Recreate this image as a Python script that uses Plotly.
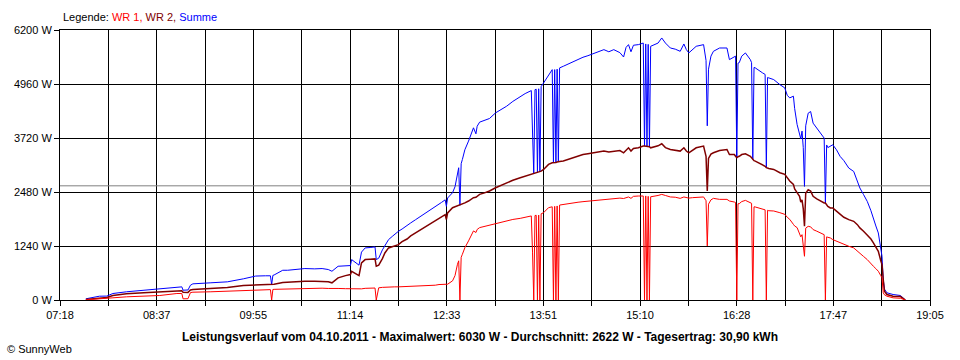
import plotly.graph_objects as go

# ---- data (time in minutes since midnight, power in W) ----
time_min = [459, 470, 476, 481, 492, 506, 519, 533, 537, 538,
            542, 544, 546, 560, 574, 587, 597, 605, 609, 610,
            611, 612, 619, 623, 630, 637, 645, 651, 656, 659,
            664, 670, 674, 675, 681, 683, 686, 690, 694, 695,
            697, 700, 702, 705, 708, 710, 713, 716, 720, 723,
            727, 730, 733, 736, 740, 743, 746, 748, 751, 752,
            753, 757, 759, 761, 762, 763, 764, 765, 767, 770,
            774, 776, 777, 779, 783, 787, 792, 796, 801, 806,
            812, 816, 821, 822, 823, 824, 825, 826, 827, 828,
            829, 831, 835, 838, 839, 840, 841, 842, 843, 844,
            847, 851, 855, 859, 863, 867, 871, 876, 880, 884,
            888, 893, 896, 898, 900, 902, 904, 908, 911, 912,
            913, 914, 915, 916, 917, 918, 924, 927, 930, 934,
            938, 942, 945, 947, 949, 952, 955, 961, 963, 964,
            965, 967, 969, 974, 980, 982, 986, 987, 988, 989,
            990, 992, 995, 999, 1000, 1001, 1002, 1003, 1009, 1011,
            1012, 1013, 1014, 1018, 1023, 1027, 1029, 1031, 1034, 1035,
            1037, 1039, 1040, 1041, 1042, 1043, 1044, 1046, 1048, 1050,
            1053, 1056, 1059, 1060, 1061, 1062, 1064, 1066, 1069, 1072,
            1075, 1079, 1083, 1086, 1088, 1091, 1094, 1097, 1099, 1101,
            1103, 1105, 1106, 1107, 1108, 1110, 1115, 1121, 1125]

summe = [27, 87, 90, 149, 188, 225, 256, 302, 302, 225,
         230, 340, 371, 394, 417, 486, 550, 556, 556, 355,
         565, 575, 683, 683, 700, 722, 715, 722, 700, 660,
         775, 790, 791, 928, 800, 1100, 1196, 1205, 1219, 928,
         960, 1150, 1260, 1387, 1460, 1510, 1577, 1630, 1700, 1770,
         1845, 1900, 1950, 2000, 2074, 2130, 2200, 2240, 2300, 2150,
         2342, 2464, 2600, 2883, 3037, 2175, 3130, 3227, 3450, 3649,
         3954, 3816, 3990, 4084, 4130, 4167, 4298, 4360, 4451, 4560,
         4680, 4740, 4809, 3900, 2900, 4830, 4840, 2920, 4850, 2940,
         4900, 4985, 5176, 5290, 3150, 5290, 3160, 5300, 3170, 5330,
         5367, 5420, 5482, 5530, 5574, 5610, 5650, 5700, 5749, 5700,
         5749, 5680, 5580, 5800, 5864, 5700, 5850, 5864, 5902, 5900,
         3534, 5880, 3530, 5870, 3520, 5826, 5900, 6017, 5900, 5787,
         5760, 5711, 5879, 5750, 5673, 5750, 5826, 5864, 5500, 4000,
         5300, 5600, 5711, 5787, 5787, 5520, 5600, 5600, 3266, 5440,
         5450, 5600, 5673, 5520, 5450, 3230, 5340, 5330, 5214, 5180,
         3040, 5110, 5100, 5061, 4946, 4870, 4700, 4641, 4680, 4400,
         4030, 3832, 3700, 3878, 3500, 2609, 4000, 4290, 4328, 4061,
         3950, 3832, 3718, 2227, 3560, 3500, 3526, 3564, 3450, 3296,
         3200, 3030, 2952, 2750, 2572, 2420, 2265, 2050, 1845, 1700,
         1540, 1200, 1004, 470, 250, 165, 126, 103, 0]

wr2 = [10, 50, 60, 103, 142, 165, 179, 211, 211, 180,
       175, 230, 241, 264, 287, 332, 345, 350, 352, 355,
       357, 360, 400, 408, 420, 431, 428, 431, 420, 394,
       509, 560, 584, 660, 560, 850, 928, 935, 944, 775,
       800, 950, 1080, 1196, 1230, 1250, 1272, 1340, 1400, 1470,
       1540, 1600, 1650, 1700, 1769, 1820, 1870, 1910, 1960, 1850,
       1999, 2120, 2140, 2160, 2170, 2175, 2185, 2196, 2230, 2273,
       2349, 2360, 2380, 2425, 2460, 2503, 2578, 2630, 2693, 2750,
       2808, 2840, 2884, 2900, 2900, 2910, 2915, 2920, 2930, 2940,
       2960, 2998, 3113, 3150, 3150, 3160, 3160, 3170, 3170, 3180,
       3190, 3230, 3266, 3300, 3342, 3360, 3381, 3400, 3419, 3400,
       3419, 3430, 3380, 3450, 3495, 3420, 3480, 3495, 3534, 3534,
       3534, 3530, 3530, 3520, 3520, 3495, 3540, 3587, 3500, 3457,
       3440, 3419, 3495, 3420, 3381, 3440, 3495, 3534, 3300, 2503,
       3250, 3350, 3381, 3434, 3457, 3342, 3340, 3300, 3266, 3290,
       3300, 3340, 3357, 3300, 3260, 3230, 3200, 3190, 3113, 3070,
       3040, 3030, 3020, 2998, 2922, 2884, 2800, 2732, 2654, 2550,
       2464, 2380, 2250, 2300, 2100, 1692, 2450, 2533, 2500, 2380,
       2320, 2265, 2227, 2227, 2180, 2150, 2113, 2113, 2040, 1960,
       1900, 1845, 1807, 1730, 1655, 1580, 1501, 1400, 1311, 1220,
       1119, 900, 814, 470, 200, 126, 87, 80, 0]

wr1 = [5, 20, 30, 50, 73, 87, 103, 149, 149, 27,
       30, 170, 179, 188, 202, 225, 225, 235, 238, 0,
       242, 245, 250, 256, 262, 271, 268, 271, 265, 260,
       265, 260, 256, 256, 250, 256, 268, 270, 275, 0,
       280, 290, 295, 302, 302, 302, 302, 305, 310, 312,
       317, 320, 325, 328, 332, 340, 355, 357, 360, 360,
       363, 440, 560, 821, 900, 0, 980, 1050, 1200, 1357,
       1586, 1550, 1620, 1662, 1690, 1723, 1760, 1790, 1815, 1850,
       1875, 1900, 1930, 1100, 0, 1940, 1945, 0, 1950, 0,
       1980, 2005, 2120, 2140, 0, 2150, 0, 2160, 0, 2180,
       2196, 2215, 2235, 2245, 2258, 2270, 2288, 2300, 2311, 2320,
       2334, 2340, 2330, 2350, 2366, 2334, 2380, 2388, 2388, 2388,
       0, 2390, 0, 2380, 0, 2370, 2400, 2425, 2400, 2366,
       2360, 2334, 2366, 2350, 2340, 2350, 2360, 2366, 2280, 1242,
       2200, 2300, 2334, 2311, 2311, 2273, 2250, 2240, 0, 2210,
       2212, 2260, 2288, 2240, 2220, 0, 2140, 2136, 2081, 2070,
       0, 2060, 2050, 2044, 2005, 1967, 1900, 1852, 1737, 1700,
       1662, 1540, 1450, 1500, 1300, 1004, 1650, 1692, 1680, 1617,
       1580, 1540, 1500, 0, 1450, 1440, 1425, 1387, 1350, 1311,
       1270, 1234, 1196, 1130, 1082, 1000, 928, 850, 775, 720,
       660, 560, 509, 165, 120, 87, 50, 40, 0]

assert len(time_min) == len(summe) == len(wr2) == len(wr1)

average_w = 2622
x_start, x_end = 438, 1145          # 07:18 .. 19:05
x_tick_labels = ["07:18", "", "08:37", "", "09:55", "", "11:14", "", "12:33", "",
                 "13:51", "", "15:10", "", "16:28", "", "17:47", "", "19:05"]
y_max, y_step = 6200, 1240

legend_html = ("Legende: <span style='color:#FF0000'>WR 1, </span>"
               "<span style='color:#800000'>WR 2, </span>"
               "<span style='color:#0000FF'>Summe</span>")
footer_text = ("Leistungsverlauf vom 04.10.2011 - Maximalwert: 6030 W - "
               "Durchschnitt: 2622 W - Tagesertrag: 30,90 kWh")
copyright_text = "© SunnyWeb"

FONT = "Liberation Sans, Arial, sans-serif"

n_int = len(x_tick_labels) - 1
tickvals = [x_start + k * (x_end - x_start) / n_int for k in range(n_int + 1)]

fig = go.Figure()
fig.add_trace(go.Scatter(x=[x_start, x_end], y=[average_w, average_w], mode="lines",
                         line=dict(color="#808080", width=1), hoverinfo="skip"))
fig.add_trace(go.Scatter(x=time_min, y=summe, mode="lines", name="Summe",
                         line=dict(color="#0000FF", width=1)))
fig.add_trace(go.Scatter(x=time_min, y=wr2, mode="lines", name="WR 2",
                         line=dict(color="#800000", width=1.5)))
fig.add_trace(go.Scatter(x=time_min, y=wr1, mode="lines", name="WR 1",
                         line=dict(color="#FF0000", width=1)))

axis_common = dict(showgrid=True, gridcolor="#000000", gridwidth=1,
                   showline=True, linecolor="#000000", linewidth=1, mirror=True,
                   ticks="outside", ticklen=5, tickcolor="#000000", tickwidth=1,
                   zeroline=False, tickfont=dict(family=FONT, size=11, color="#000000"))

fig.update_layout(
    width=960, height=360,
    margin=dict(l=60, r=30, t=30, b=60),
    paper_bgcolor="#FFFFFF", plot_bgcolor="#FFFFFF",
    showlegend=False,
    font=dict(family=FONT, size=11, color="#000000"),
    xaxis=dict(range=[x_start, x_end], tickmode="array", tickvals=tickvals,
               ticktext=x_tick_labels, **axis_common),
    yaxis=dict(range=[0, y_max], tickmode="linear", tick0=0, dtick=y_step,
               ticksuffix=" W", **axis_common),
    annotations=[
        dict(text=legend_html, xref="paper", yref="paper", x=0.001, y=1.048,
             xanchor="left", yanchor="middle", showarrow=False,
             font=dict(family=FONT, size=11, color="#000000")),
        dict(text="<b>" + footer_text + "</b>", xref="paper", yref="paper",
             x=0.4828, y=-0.137, xanchor="center", yanchor="middle", showarrow=False,
             font=dict(family=FONT, size=12, color="#000000")),
        dict(text=copyright_text, xref="paper", yref="paper", x=-0.0632, y=-0.1815,
             xanchor="left", yanchor="middle", showarrow=False,
             font=dict(family=FONT, size=11, color="#000000")),
    ],
)

fig.write_html("out.html", config={"displayModeBar": False},
               post_script="document.body.style.margin='0';document.body.style.overflow='hidden';")
